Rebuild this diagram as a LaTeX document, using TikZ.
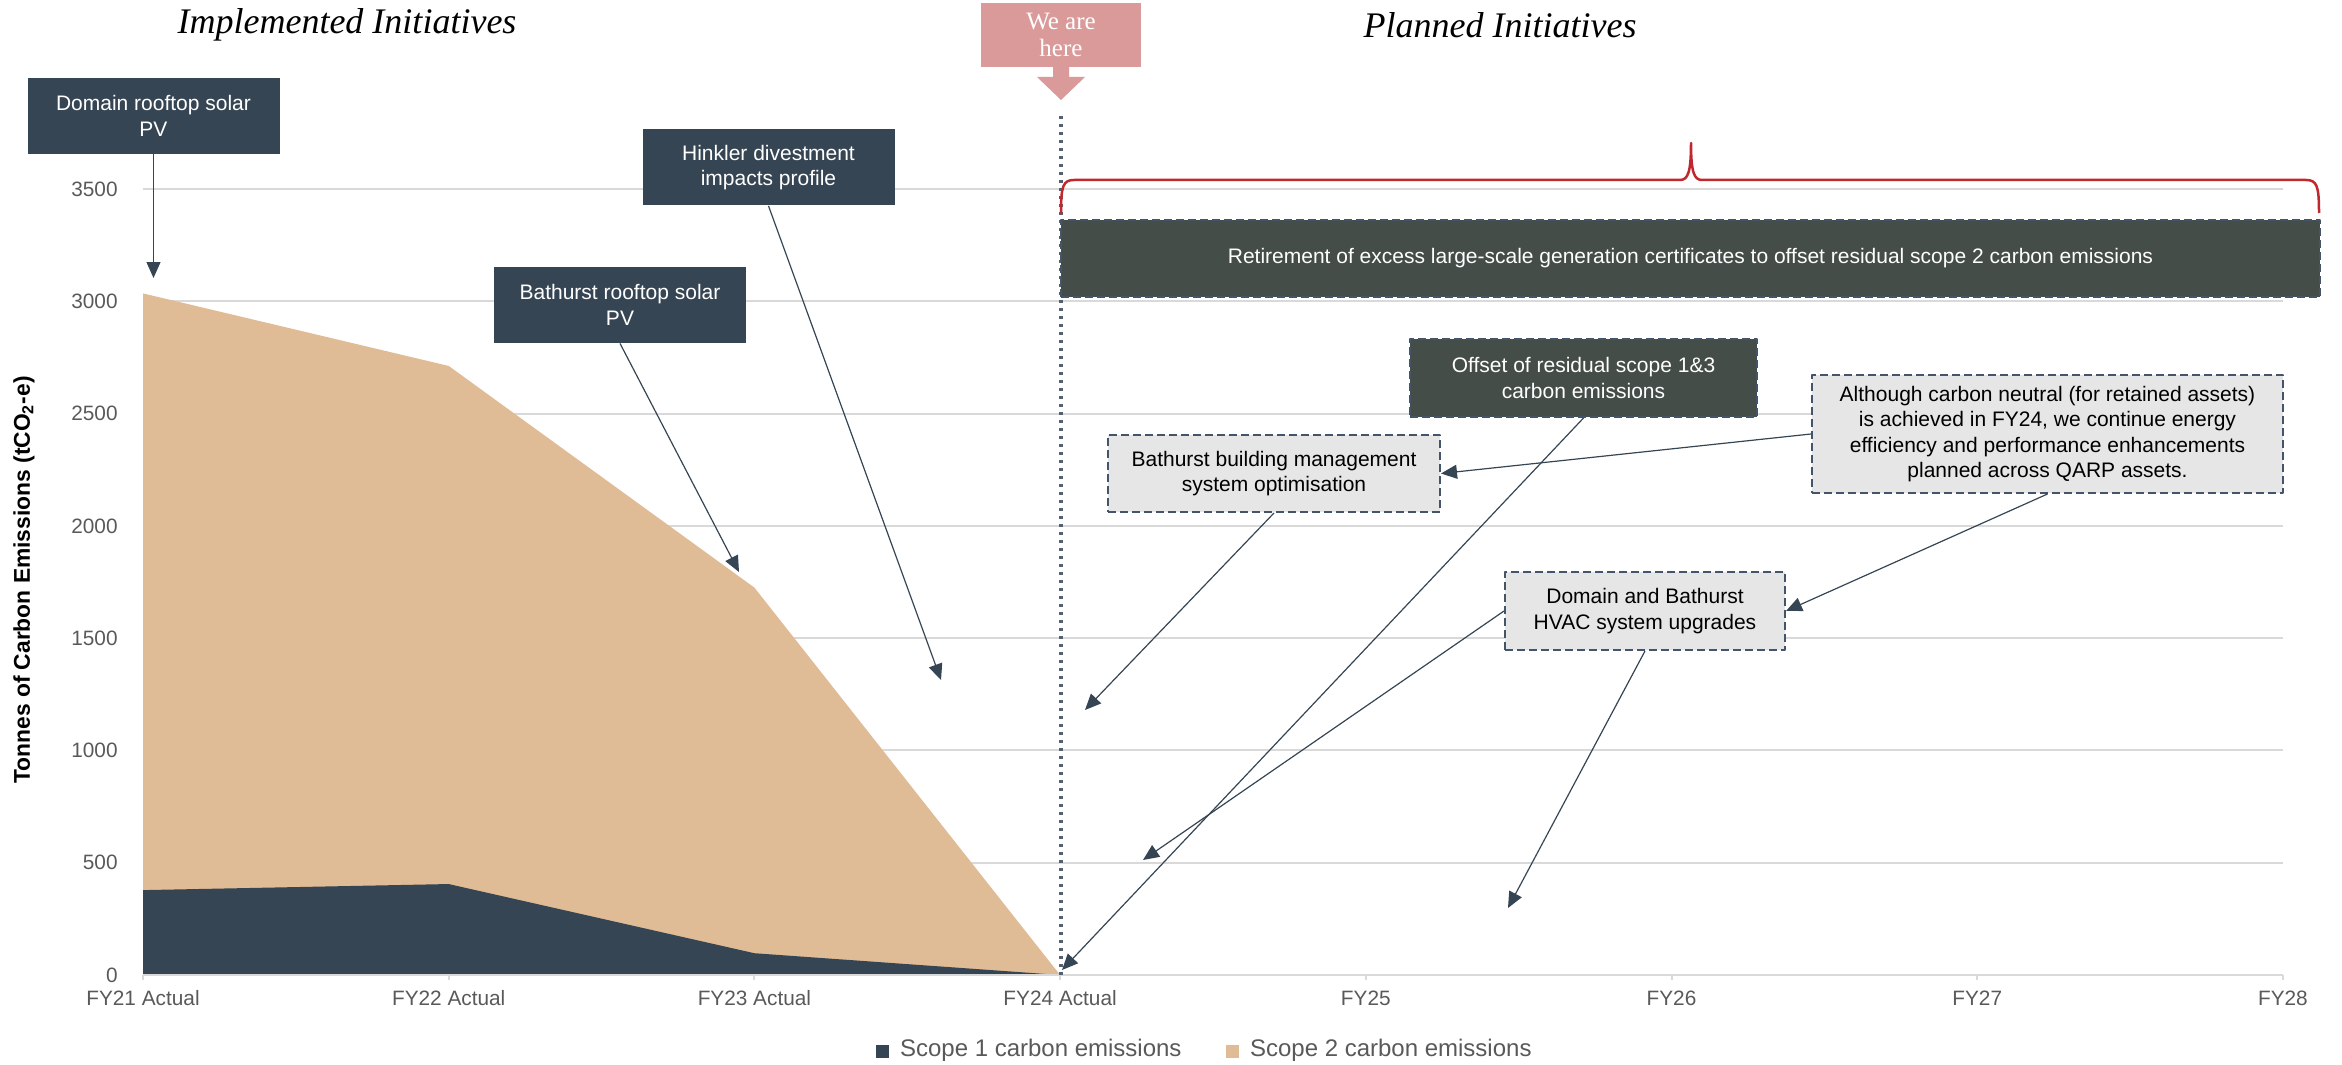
\documentclass[tikz,border=0pt]{standalone}
\usepackage{fontspec}
\setmainfont{Liberation Sans}
\newfontfamily\serifit{Liberation Serif}
\usetikzlibrary{arrows.meta}
\definecolor{slate}{RGB}{54,69,83}
\definecolor{tan}{RGB}{224,188,150}
\definecolor{moss}{RGB}{69,77,72}
\definecolor{paleg}{RGB}{231,230,230}
\definecolor{dashc}{RGB}{68,84,106}
\definecolor{braced}{RGB}{192,40,45}
\definecolor{rose}{RGB}{218,154,154}
\definecolor{gridc}{RGB}{217,217,217}
\definecolor{ticktxt}{RGB}{89,89,89}
\definecolor{dotc}{RGB}{85,96,110}
\tikzset{
  boxfont/.style={font=\fontsize{10.5}{12.8}\selectfont},
  darkbox/.style={boxfont, fill=slate, text=white, minimum width=126pt, minimum height=38pt, align=center, inner sep=0pt},
  planbox/.style={boxfont, fill=moss, text=white, draw=dashc, line width=1pt, dash pattern=on 4pt off 2pt, align=center, inner sep=0pt},
  greybox/.style={planbox, fill=paleg, text=black},
  pointer/.style={-{Triangle[length=8pt,width=7pt]}, slate, line width=0.6pt},
  gridline/.style={gridc, line width=1pt},
  ticklab/.style={ticktxt, font=\fontsize{10.4}{12}\selectfont},
  keylab/.style={ticktxt, anchor=west, font=\fontsize{12}{14}\selectfont}
}
\begin{document}
\begin{tikzpicture}[x=0.5pt, y=-0.5pt, line join=round]
\useasboundingbox (0,0) rectangle (2342,1065);
% the chart: x in years from FY21, y in tonnes
\begin{scope}[shift={(143,975)}, x=152.85pt, y=0.112285pt]
  \foreach \v in {500,1000,...,3500} \draw[gridline] (0,\v) -- (7,\v);
  \fill[tan] (0,3035) -- (1,2712) -- (2,1725) -- (3,0) -- (0,0) -- cycle;
  \fill[slate] (0,378) -- (1,405) -- (2,97) -- (3,0) -- (0,0) -- cycle;
  \draw[gridline] (0,0) -- (7,0);
  \foreach \i in {0,...,7} \draw[gridline] (\i,0) -- (\i,-24);
  \foreach \v in {0,500,...,3500} \node[ticklab, anchor=east] at (-0.06,\v) {\v};
  \foreach \lab [count=\i from 0] in {FY21 Actual,FY22 Actual,FY23 Actual,FY24 Actual,FY25,FY26,FY27,FY28}
    \node[ticklab] at (\i,-102) {\lab};
\end{scope}
\node[rotate=90, font=\bfseries\fontsize{11.4}{13}\selectfont] (ytitle) at (24,580) {Tonnes of Carbon Emissions (tCO\textsubscript{2}-e)};
% legend
\node[fill=slate, minimum size=6.5pt, inner sep=0pt] (key1) at (882,1051) {};
\node[keylab] (lab1) at (893,1050) {Scope 1 carbon emissions};
\node[fill=tan, minimum size=6.5pt, inner sep=0pt] (key2) at (1232,1051) {};
\node[keylab] (lab2) at (1243,1050) {Scope 2 carbon emissions};
% headings
\node[font=\serifit\itshape\fontsize{18}{21}\selectfont] (impl) at (347,25) {Implemented Initiatives};
\node[font=\serifit\itshape\fontsize{18}{21}\selectfont] (plan) at (1500,25) {Planned Initiatives};
% we are here
\node[fill=rose, text=white, minimum width=80pt, minimum height=32pt, inner sep=0pt, align=center,
  font=\serifit\fontsize{12.5}{13.5}\selectfont] (here) at (1061,35) {We are\\here};
\fill[rose] (1053,66) -- (1053,77) -- (1037,77) -- (1061,100) -- (1085,77) -- (1069,77) -- (1069,66) -- cycle;
\draw[dotc, line width=1.6pt, dash pattern=on 1.6pt off 2.4pt] (1061,116) -- (1061,975);
% brace over the planned years
\draw[braced, line width=1.25pt] (1061,213) .. controls (1061,186) and (1063,180) .. (1074,180) -- (1680,180)
  .. controls (1688,180) and (1691,172) .. (1691,143) .. controls (1691,172) and (1694,180) .. (1702,180)
  -- (2306,180) .. controls (2317,180) and (2319,186) .. (2319,213);
% implemented
\node[darkbox] (dompv) at (153.5,116) {Domain rooftop solar\\PV};
\node[darkbox] (hink) at (768.5,167.5) {Hinkler divestment\\impacts profile};
\node[darkbox] (bpv) at (620,305) {Bathurst rooftop solar\\PV};
% planned
\node[planbox, minimum width=629.5pt, minimum height=38.5pt] (retire) at (1690.5,258.5) {Retirement of excess large-scale generation certificates to offset residual scope 2 carbon emissions};
\node[planbox, minimum width=173.5pt, minimum height=39pt] (offset) at (1583.5,378) {Offset of residual scope 1\&3\\carbon emissions};
\node[greybox, minimum width=166pt, minimum height=38.5pt] (bms) at (1274,473.5) {Bathurst building management\\system optimisation};
\node[greybox, minimum width=235.5pt, minimum height=59pt] (neutral) at (2047.5,434) {Although carbon neutral (for retained assets)\\is achieved in FY24, we continue energy\\efficiency and performance enhancements\\planned across QARP assets.};
\node[greybox, minimum width=140pt, minimum height=39pt] (hvac) at (1645,611) {Domain and Bathurst\\HVAC system upgrades};
% where the pointers end
\coordinate (tDom) at (153.5,278);
\coordinate (tBpv) at (739,572);
\coordinate (tHink) at (941,680);
\coordinate (tBms) at (1085,710);
\coordinate (tOff) at (1062,970);
\coordinate (tHv1) at (1143,860);
\coordinate (tHv2) at (1508,908);
\draw[pointer] (dompv) -- (tDom);
\draw[pointer] (bpv.south) -- (tBpv);
\draw[pointer] (hink.south) -- (tHink);
\draw[pointer] (bms.south) -- (tBms);
\draw[pointer] (offset.south) -- (tOff);
\draw[pointer] (neutral.west) -- (bms.east);
\draw[pointer] (neutral.south) -- (hvac.east);
\draw[pointer] (hvac.west) -- (tHv1);
\draw[pointer] (hvac.south) -- (tHv2);
\end{tikzpicture}
\end{document}
